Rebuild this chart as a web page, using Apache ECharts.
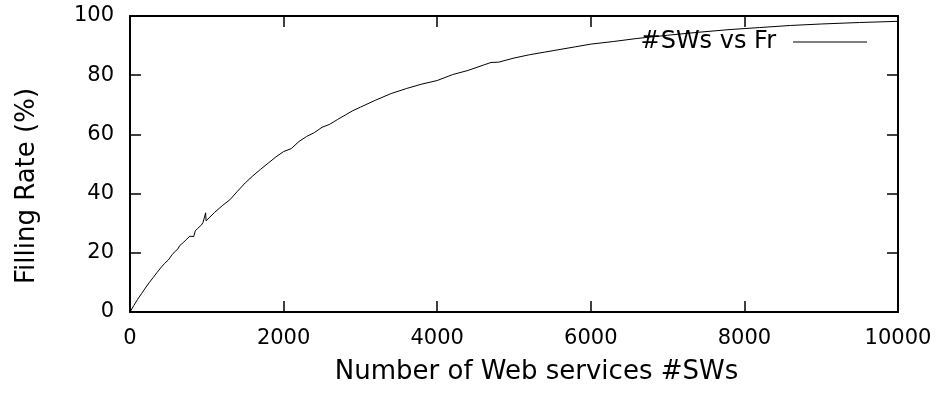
<!DOCTYPE html>
<html>
<head>
<meta charset="utf-8">
<script src="https://cdn.jsdelivr.net/npm/echarts@6/dist/echarts.min.js"></script>
<style>html,body{margin:0;padding:0;background:#fff}#c{width:941px;height:394px}</style>
</head>
<body>
<div id="c"></div>
<script>
// Number of Web services (#SWs)
var sws = [0,50,100,150,200,250,300,350,400,450,500,550,580,600,620,650,670,700,730,750,780,800,830,850,880,900,930,950,970,985,990,1000,
  1100,1200,1300,1400,1500,1600,1700,1800,1900,2000,2100,2200,2300,2400,2500,2600,2700,2800,2900,3000,
  3200,3400,3600,3800,4000,4200,4400,4600,4700,4800,5000,5200,5400,5600,5800,6000,6300,6600,7000,7400,7800,8200,8600,9000,9500,10000];
// Filling rate (%)
var fr = [0,2.2,4.3,6.2,8.1,9.9,11.6,13.3,14.9,16.4,17.6,19.4,20.3,19.8,21.2,22.5,21.9,23.6,24.4,23.8,25.6,26.1,25.5,27.4,28.2,27.9,29.4,30.2,29.6,33.5,30.8,31.2,
  33.6,35.9,37.9,40.8,43.6,46.0,48.2,50.3,52.4,54.2,55.2,57.6,59.3,60.6,62.4,63.4,65.0,66.5,68.0,69.2,
  71.6,73.8,75.5,77.0,78.2,80.2,81.6,83.4,84.3,84.4,85.8,86.9,87.8,88.7,89.6,90.5,91.4,92.4,93.5,94.5,95.4,96.1,96.8,97.3,97.8,98.2];
var seriesName = '#SWs vs Fr';
var xTitle = 'Number of Web services #SWs';
var yTitle = 'Filling Rate (%)';

var FONT = 'DejaVu Sans';
var pts = sws.map(function(x, i){ return [x, fr[i]]; });
var chart = echarts.init(document.getElementById('c'), null, {renderer: 'canvas'});
var axisLine = {show: true, onZero: false, lineStyle: {color: '#000', width: 2}};
var tick = {show: true, inside: true, length: 11, lineStyle: {color: '#000', width: 1.5}};
var plain = function(v){ return String(v); };
chart.setOption({
  animation: false,
  backgroundColor: '#fff',
  grid: {left: 130, right: 43, top: 16, bottom: 82, containLabel: false},
  legend: {
    show: true, right: 69, top: 25, align: 'right',
    icon: 'rect', itemWidth: 74, itemHeight: 1.2,
    textStyle: {fontFamily: FONT, fontSize: 24, color: '#000', padding: [0, 12, 0, 0]},
    data: [{name: seriesName, itemStyle: {color: '#000'}}]
  },
  xAxis: [{
    type: 'value', min: 0, max: 10000, interval: 2000, position: 'bottom',
    name: xTitle, nameLocation: 'middle', nameGap: 47,
    nameTextStyle: {fontFamily: FONT, fontSize: 26, color: '#000', padding: [0, 0, 0, 45]},
    axisLine: axisLine, axisTick: tick, splitLine: {show: false},
    axisLabel: {fontFamily: FONT, fontSize: 21, color: '#000', margin: 16, formatter: plain}
  }, {
    type: 'value', min: 0, max: 10000, interval: 2000, position: 'top',
    axisLine: axisLine, axisTick: tick, splitLine: {show: false}, axisLabel: {show: false}
  }],
  yAxis: [{
    type: 'value', min: 0, max: 100, interval: 20, position: 'left',
    name: yTitle, nameLocation: 'middle', nameGap: 90, nameRotate: 90,
    nameTextStyle: {fontFamily: FONT, fontSize: 26, color: '#000', padding: [0, 44, 0, 0]},
    axisLine: axisLine, axisTick: tick, splitLine: {show: false},
    axisLabel: {fontFamily: FONT, fontSize: 21, color: '#000', margin: 16, formatter: plain}
  }, {
    type: 'value', min: 0, max: 100, interval: 20, position: 'right',
    axisLine: axisLine, axisTick: tick, splitLine: {show: false}, axisLabel: {show: false}
  }],
  series: [{
    name: seriesName, type: 'line', data: pts, showSymbol: false, symbol: 'none',
    lineStyle: {color: '#000', width: 1}, itemStyle: {color: '#000'}
  }]
});
</script>
</body>
</html>
